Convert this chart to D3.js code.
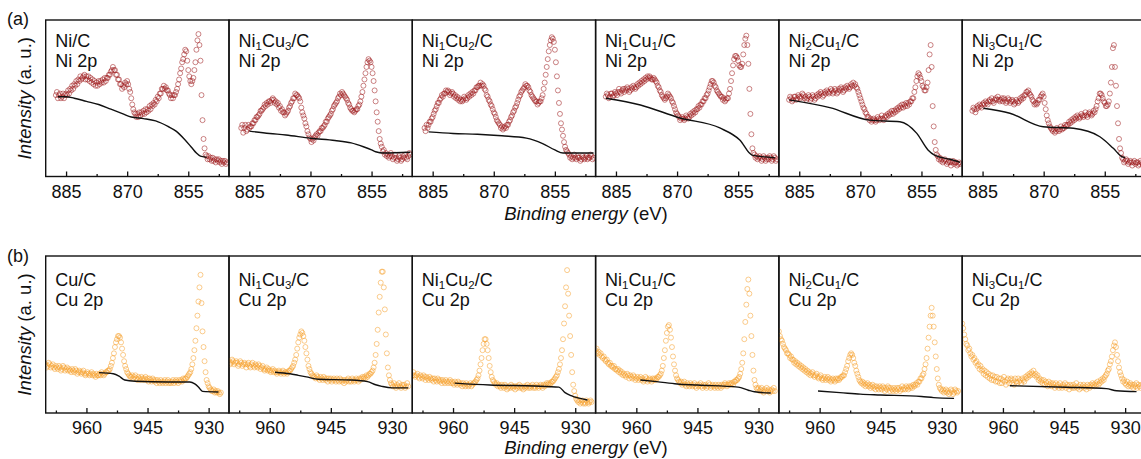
<!DOCTYPE html>
<html>
<head>
<meta charset="utf-8">
<script src="https://cdn.jsdelivr.net/npm/d3@7"></script>
<style>
  body { margin: 0; background: #fff; }
  svg { display: block; }
  text { font-family: "Liberation Sans", Arial, sans-serif; fill: #111; }
</style>
</head>
<body>
<svg id="chart" width="1141" height="459"></svg>
<script>
// ---------- data ----------
const STEP = 0.25; // eV between recorded points

const niLabels = ["Ni/C", "Ni_1Cu_3/C", "Ni_1Cu_2/C", "Ni_1Cu_1/C", "Ni_2Cu_1/C", "Ni_3Cu_1/C"];
const cuLabels = ["Cu/C", "Ni_1Cu_3/C", "Ni_1Cu_2/C", "Ni_1Cu_1/C", "Ni_2Cu_1/C", "Ni_3Cu_1/C"];

const niTicks = [885, 870, 855];
const niMinorTicks = [877.5, 862.5, 847.5];
const cuTicks = [960, 945, 930];
const cuMinorTicks = [967.5, 952.5, 937.5];

// first binding energy of each scan (eV)
const niStart = [887.5, 887, 887, 887.5, 887.5, 887.5];
const cuStart = [970, 970, 970, 970, 970, 970];

// Ni 2p intensities (a. u.)
const niNiC = [52,54,50,52,53,50,51,53,50,52,53,52,55,53,56,55,58,56,59,58,61,59,62,61,64,62,63,64,65,62,64,62,64,61,63,60,62,59,61,58,60,58,61,59,61,60,62,60,63,61,63,63,65,65,67,68,70,68,68,65,65,62,62,59,59,56,58,57,60,59,61,59,56,54,50,46,43,41,40,38,40,38,41,39,41,40,42,40,43,41,43,42,45,43,46,45,47,46,49,48,51,50,53,53,56,56,58,56,57,55,55,53,52,50,52,50,52,52,54,56,59,62,66,69,73,75,78,81,80,74,68,64,61,59,61,63,68,73,81,87,91,84,74,52,36,24,18,14,13,11,13,11,12,10,12,10,11,9,11,10,11,9,10,8,10,9,10,8,9];
const niNi1Cu3 = [31,33,28,31,33,29,30,33,31,32,32,34,34,36,36,38,38,39,40,42,42,43,44,46,45,47,46,48,48,47,49,50,49,47,48,46,47,44,45,42,43,41,41,39,40,41,42,44,45,47,48,50,50,53,52,52,51,50,48,44,41,39,37,34,32,29,27,25,24,22,24,23,25,26,27,26,28,29,29,31,31,32,33,35,35,37,38,39,40,42,43,45,46,47,48,50,51,53,52,54,53,52,51,50,49,47,46,44,43,42,42,41,42,43,43,45,46,48,51,54,58,62,66,70,73,75,74,73,70,66,61,55,48,41,35,29,24,21,19,16,17,14,15,13,14,12,13,15,13,11,12,14,12,10,11,13,12,10,11,13,12,14,12,11,13,15,14];
const niNi1Cu2 = [31,29,33,31,33,35,35,37,38,40,42,43,45,47,47,49,50,52,51,53,53,55,54,55,54,52,53,54,53,51,52,50,51,49,50,48,49,48,49,51,50,49,50,52,51,53,52,54,53,55,55,57,57,58,58,60,58,59,58,56,55,52,51,49,48,46,45,43,41,40,38,36,35,34,33,31,32,30,31,32,31,33,33,35,36,38,39,41,42,44,45,47,49,51,52,54,55,56,57,59,58,58,57,55,54,52,51,50,49,48,48,46,47,48,48,50,52,56,60,65,70,75,80,84,87,89,88,86,81,73,64,55,47,40,34,30,26,22,19,17,16,15,14,12,13,11,12,14,12,11,13,12,12,10,11,13,12,11,12,13,11,12,12,14,13,11,12];
const niNi1Cu1 = [51,53,52,50,51,53,53,51,52,54,53,52,54,56,54,53,55,56,54,56,55,57,56,54,55,57,56,58,57,56,57,59,58,60,59,61,60,62,61,63,62,64,63,64,63,62,62,63,62,61,60,58,57,55,54,52,51,50,49,50,51,53,52,51,50,48,47,45,43,41,40,39,38,36,37,38,37,36,37,39,38,37,38,40,39,41,40,42,41,43,43,45,44,46,46,48,48,50,50,52,53,55,57,59,61,61,60,58,57,55,54,53,52,51,51,49,50,48,49,50,50,53,56,61,66,71,75,77,77,76,74,71,70,70,72,78,84,88,90,84,72,56,40,27,18,15,14,12,13,11,12,13,12,10,11,13,12,10,11,12,11,13,12,10,11,13,12,10,11];
const niNi2Cu1 = [49,51,50,48,49,51,51,49,50,52,51,50,51,53,52,50,51,49,50,52,51,49,50,52,51,49,50,52,51,53,52,54,53,51,52,54,53,55,54,53,54,56,55,53,54,56,55,53,54,56,55,57,56,54,55,57,56,58,57,56,57,59,58,60,58,59,57,56,54,52,50,48,46,44,43,41,40,38,38,36,37,35,36,37,36,35,36,38,37,36,37,39,37,36,38,39,38,40,39,41,40,42,40,42,41,43,42,44,43,45,44,46,44,46,45,47,45,47,46,48,48,50,50,54,57,61,64,66,65,63,61,58,57,55,55,57,60,68,78,84,70,45,32,22,17,14,13,11,12,10,11,9,10,11,10,8,9,10,9,7,9,10,8,9,9,7,8,9,8];
const niNi3Cu1 = [42,44,43,41,43,45,44,46,45,44,46,47,46,48,47,46,48,49,48,50,48,47,49,50,49,51,49,48,49,50,48,50,49,47,48,50,49,47,48,49,48,46,47,49,48,47,48,50,49,51,50,52,52,54,54,55,53,52,51,49,48,46,47,46,47,49,49,51,52,53,51,47,43,39,36,34,32,31,30,29,30,28,29,31,30,29,30,32,30,31,31,33,32,33,33,35,34,36,35,37,36,38,37,39,38,37,38,40,39,38,39,41,39,38,40,41,40,39,40,42,41,43,45,48,50,53,53,52,50,48,47,45,45,46,48,53,60,70,82,84,70,58,45,34,24,18,15,12,11,9,10,11,10,8,9,10,9,7,9,10,8,9,9,7,8,10,9,8,8];

// Cu 2p intensities (a. u.)
const cuCuC = [31,29,30,32,31,29,30,31,29,28,30,29,28,30,29,27,28,30,29,27,28,29,27,28,27,26,28,27,26,28,27,25,26,27,26,25,26,27,25,24,25,26,25,24,25,26,24,25,24,23,25,24,24,25,24,26,25,24,25,26,26,27,27,28,30,32,35,38,42,45,47,49,49,48,45,41,37,33,30,28,26,25,24,23,23,24,22,23,24,22,21,23,22,21,23,22,21,22,23,21,22,20,22,21,20,22,21,20,21,19,21,20,19,21,20,19,20,21,19,20,21,19,20,19,20,21,19,20,21,20,19,21,20,21,20,22,21,22,22,23,24,25,26,28,31,35,40,46,54,62,71,80,88,70,52,42,33,26,21,19,17,16,15,14,14,15,13,14,13,14,13,12,13];
const cuNi1Cu3 = [33,31,32,34,33,31,32,33,32,30,31,33,32,30,31,32,31,29,31,32,30,29,31,32,30,29,31,30,29,31,30,28,29,30,28,27,28,29,27,28,27,26,27,28,26,27,26,25,26,27,26,25,26,27,25,26,26,25,26,27,27,28,29,30,32,34,37,41,45,48,50,52,51,49,46,42,38,34,30,28,26,25,24,23,23,22,24,23,22,21,23,22,21,23,22,21,22,20,22,21,22,20,21,22,21,20,22,21,20,22,21,20,21,19,21,20,21,22,20,21,20,22,21,20,21,22,21,20,22,21,22,23,22,23,22,24,23,24,25,25,26,27,29,32,37,44,53,64,74,83,90,90,80,66,50,38,29,24,21,19,18,17,19,17,16,18,17,19,17,16,18,17,18,16,17,19,17];
const cuNi1Cu2 = [24,26,24,23,24,25,23,22,24,23,22,24,23,21,23,22,21,23,22,21,22,20,22,21,20,22,21,20,21,19,21,20,19,21,20,19,20,21,19,20,19,18,20,19,18,20,19,18,19,17,19,18,17,19,18,17,18,19,17,18,19,19,20,21,22,24,27,31,35,40,44,47,47,44,40,35,30,26,23,21,20,19,18,19,17,18,17,16,18,17,16,18,17,15,16,17,16,18,17,16,17,15,17,16,17,18,16,17,16,15,17,16,17,18,16,17,16,17,18,16,17,16,18,17,16,17,18,17,16,18,17,18,19,18,19,18,19,20,20,21,22,23,24,26,28,31,35,40,47,57,68,80,91,76,62,49,37,26,18,14,11,9,8,7,8,6,7,8,6,7,6,8,7,6,7,8,7];
const cuNi1Cu1 = [40,41,38,39,37,38,36,35,36,34,33,34,32,31,32,30,30,29,30,28,28,27,28,26,27,25,26,24,25,24,23,25,24,22,24,23,22,24,23,21,22,23,21,22,23,21,22,20,21,23,22,20,21,22,21,20,22,21,22,21,22,23,23,24,25,27,30,35,40,46,51,55,56,53,48,42,36,31,27,24,22,21,20,19,20,18,19,20,18,17,19,18,17,19,18,17,18,19,17,16,18,17,18,19,17,16,18,17,18,16,17,19,18,16,17,18,17,16,18,17,16,18,17,16,18,17,18,19,18,17,18,19,18,19,19,18,20,20,21,21,22,23,25,28,32,38,47,58,69,79,85,76,62,49,37,27,21,18,16,15,16,14,15,16,14,13,15,14,16,14,15,13,14,15,14,16,14];
const cuNi2Cu1 = [52,49,47,46,44,42,41,40,38,38,37,35,36,34,34,32,33,31,32,30,31,29,30,28,29,27,28,26,27,25,26,24,25,26,24,23,24,25,23,22,23,24,22,21,22,23,21,22,23,21,22,20,21,22,21,20,22,21,22,21,22,23,23,24,24,26,28,30,33,35,37,38,37,35,32,30,27,25,23,21,20,19,20,18,19,17,18,19,17,18,16,17,18,16,17,15,17,16,15,17,16,15,17,16,14,16,15,17,16,14,16,15,14,16,15,14,16,15,16,14,15,17,15,16,15,17,16,15,17,16,17,16,18,17,18,19,18,20,20,22,22,24,25,28,31,35,41,48,55,62,67,62,55,45,36,28,22,18,16,15,14,15,13,14,15,13,14,12,13,15,14,12,13,15,14,13,14];
const cuNi3Cu1 = [57,54,50,47,44,43,40,41,38,36,37,34,35,32,33,30,31,28,30,27,28,25,27,24,26,23,25,22,24,21,24,21,23,20,23,20,22,19,22,19,21,23,20,18,21,22,19,21,22,19,21,18,22,20,19,22,20,21,19,22,21,20,23,22,24,23,25,24,26,25,27,24,25,23,24,21,22,20,21,19,21,18,20,19,17,20,18,19,17,19,18,16,19,17,18,16,19,17,16,18,17,19,16,18,17,15,18,17,16,18,16,17,19,16,17,15,18,16,17,18,16,17,15,18,17,16,18,17,19,18,17,19,18,20,18,19,21,20,22,21,23,24,25,27,28,31,33,36,40,43,45,42,37,33,29,26,24,22,20,21,19,18,20,17,18,19,17,18,16,18,17,19,16,18,17,16,18];

// Shirley backgrounds: [eV, a. u.]
const niBackgrounds = [
  [[887,51],[885,51],[883,50],[880,48],[877,46],[874,43],[871,40],[869,38],[866,37],[863,35.5],[860,32],[858,29],[856,24],[854,18],[853,15],[852,13],[851,12.5],[850.5,12]],
  [[885,29],[880,27.5],[876,26.5],[870,24.4],[864,23],[860,21.5],[857,19],[855,17],[854,15.8],[852,15],[845.5,15.5]],
  [[886,28.5],[880,27.5],[874,27],[868,26],[862,24.5],[858,21],[855,17],[853,15],[851,15],[845.5,15]],
  [[887.5,50],[879,45.7],[869.3,37.4],[859.5,31],[854.6,23.3],[851.6,13.7],[846,12]],
  [[887.5,49],[877.5,44],[867.7,36],[860.3,35],[856.2,27.7],[853.4,17],[851.8,13.7],[848,11],[845.5,9]],
  [[884.8,43.6],[878.3,40.4],[870.1,31.8],[862.7,30.8],[856.2,25.4],[852.9,18],[850.8,12.7],[850,12]]
];
const cuBackgrounds = [
  [[956.9,25.7],[953.4,25],[952,23.5],[950.6,21],[948,20.2],[940,19.7],[934.6,19.7],[933.4,18.5],[932.5,16.5],[931.5,13.8],[927.6,13.4]],
  [[958.7,26],[955,25],[953,24],[951,23],[948,21.5],[940,21],[936,20],[934,18],[932.5,17],[930,16],[926,16]],
  [[959.6,19],[951,17.8],[940,17.2],[934,16.5],[932.5,13],[931,11],[927,8.3]],
  [[959,21],[955,20],[950,18.5],[945,17.8],[935,16.5],[932.5,14.5],[931,13.5],[927,12.7]],
  [[960.4,14],[955,13],[950,12],[945,11.5],[935,10.5],[932,9.8],[927,9.3]],
  [[958.3,17.4],[944.4,16.4],[934.6,15.5],[932.1,14.2],[927.2,13.6]]
];

const niSpectra = [niNiC, niNi1Cu3, niNi1Cu2, niNi1Cu1, niNi2Cu1, niNi3Cu1];
const cuSpectra = [cuCuC, cuNi1Cu3, cuNi1Cu2, cuNi1Cu1, cuNi2Cu1, cuNi3Cu1];

// ---------- layout ----------
const svg = d3.select("#chart");
const PANEL_LEFT = 45.7, PANEL_W = 183.3;
const panelX = d3.scaleLinear().domain([0, 1]).range([PANEL_LEFT, PANEL_LEFT + PANEL_W]);

const rows = [
  { tag: "(a)", tagY: 25, top: 20, bottom: 176.5, domain: [890, 845], major: niTicks, minor: niMinorTicks,
    level: "Ni 2p", labels: niLabels, start: niStart, spectra: niSpectra,
    bg: niBackgrounds, color: "#9a1416", opacity: 0.58, line1: 46.5, titleY: 220 },
  { tag: "(b)", tagY: 262, top: 256, bottom: 413, domain: [970, 925], major: cuTicks, minor: cuMinorTicks,
    level: "Cu 2p", labels: cuLabels, start: cuStart, spectra: cuSpectra,
    bg: cuBackgrounds, color: "#f5a02c", opacity: 0.6, line1: 285.5, titleY: 453.5 }
];

// sample name (with subscripts) on one line, core level on the next
function panelLabel(sel, name, level, x) {
  const parts = name.split(/(_\d)/).filter(s => s.length);
  let low = false;
  parts.forEach(p => {
    if (p[0] === "_") {
      sel.append("tspan").attr("dy", 3).attr("font-size", 11.5).text(p.slice(1));
      low = true;
    } else {
      const t = sel.append("tspan").text(p);
      if (low) { t.attr("dy", -3); low = false; }
    }
  });
  sel.append("tspan").attr("x", x).attr("dy", 20.5).text(level);
}

rows.forEach((row, r) => {
  const y = d3.scaleLinear().domain([0, 100]).range([row.bottom, row.top]);

  row.spectra.forEach((vals, i) => {
    const x0 = panelX(i);
    const x = d3.scaleLinear().domain(row.domain).range([x0, x0 + PANEL_W]);
    const g = svg.append("g");
    const clipId = `clip-${r}-${i}`;
    g.append("clipPath").attr("id", clipId)
      .append("rect").attr("x", x0).attr("y", row.top).attr("width", PANEL_W).attr("height", row.bottom - row.top);

    const pts = vals.map((v, k) => [row.start[i] - k * STEP, v]);
    const plot = g.append("g").attr("clip-path", `url(#${clipId})`);
    plot.selectAll("circle").data(pts).join("circle")
      .attr("cx", d => x(d[0])).attr("cy", d => y(d[1])).attr("r", 2.5)
      .attr("fill", "none").attr("stroke", row.color)
      .attr("stroke-opacity", row.opacity).attr("stroke-width", 0.9);

    plot.append("path").datum(row.bg[i])
      .attr("d", d3.line().x(d => x(d[0])).y(d => y(d[1])).curve(d3.curveMonotoneX))
      .attr("fill", "none").attr("stroke", "#111").attr("stroke-width", 1.4);

    // frame
    g.append("rect").attr("x", x0).attr("y", row.top).attr("width", PANEL_W).attr("height", row.bottom - row.top)
      .attr("fill", "none").attr("stroke", "#111").attr("stroke-width", 1.4);

    // ticks pointing inwards
    const major = g.append("g").attr("transform", `translate(0,${row.bottom})`)
      .call(d3.axisBottom(x).tickValues(row.major).tickSizeInner(-5).tickSizeOuter(0).tickPadding(8.7).tickFormat(d3.format("d")));
    const minor = g.append("g").attr("transform", `translate(0,${row.bottom})`)
      .call(d3.axisBottom(x).tickValues(row.minor).tickSizeInner(-2.5).tickSizeOuter(0).tickFormat(""));
    [major, minor].forEach(a => {
      a.select(".domain").remove();
      a.selectAll("line").attr("stroke", "#111").attr("stroke-width", 1.3);
    });
    major.selectAll("text").attr("font-size", 18).attr("fill", "#111")
      .style("font-family", "'Liberation Sans', Arial, sans-serif");

    const lbl = g.append("text").attr("x", x0 + 9.5).attr("y", row.line1).attr("font-size", 18);
    panelLabel(lbl, row.labels[i], row.level, x0 + 9.5);
  });

  // row tag
  svg.append("text").attr("x", 7).attr("y", row.tagY).attr("font-size", 18).text(row.tag);

  // y title
  const yt = svg.append("text").attr("font-size", 18.5).attr("text-anchor", "middle")
    .attr("transform", `translate(31,${(row.top + row.bottom) / 2}) rotate(-90)`);
  yt.append("tspan").attr("font-style", "italic").text("Intensity");
  yt.append("tspan").text(" (a. u.)");

  // x title
  const xt = svg.append("text").attr("font-size", 18.5).attr("text-anchor", "middle")
    .attr("x", 586).attr("y", row.titleY);
  xt.append("tspan").attr("font-style", "italic").text("Binding energy");
  xt.append("tspan").text(" (eV)");
});
</script>
</body>
</html>
